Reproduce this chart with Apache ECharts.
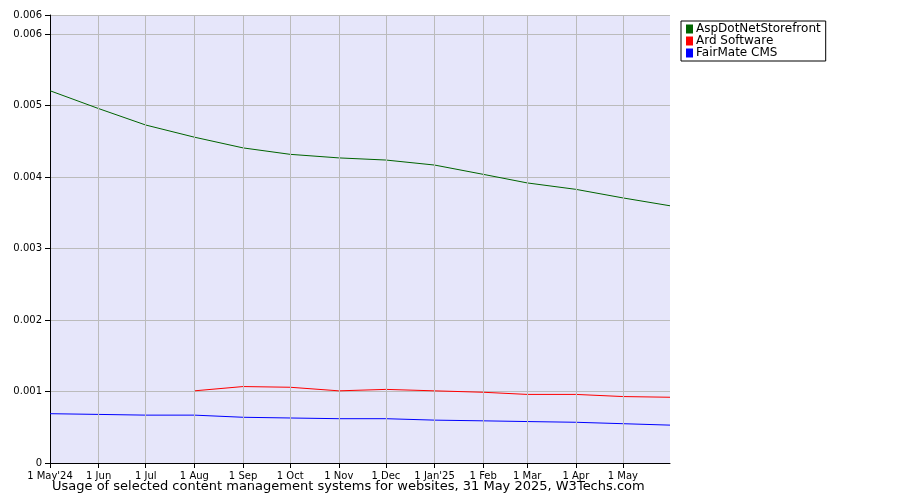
<!DOCTYPE html><html><head><meta charset="utf-8"><script src="https://cdn.jsdelivr.net/npm/echarts@6/dist/echarts.min.js"></script></head><body style="margin:0"><div id="c" style="width:900px;height:500px"></div><script>
const tickDays=[0,31,61,92,123,153,184,214,245,276,304,335,365];
const tickLabels=["1 May'24","1 Jun","1 Jul","1 Aug","1 Sep","1 Oct","1 Nov","1 Dec","1 Jan'25","1 Feb","1 Mar","1 Apr","1 May"];
const pointDays=[0,31,61,92,123,153,184,214,245,276,304,335,365,395];
const asp=[0.00521,0.00496,0.00473,0.00456,0.00441,0.00432,0.00427,0.00424,0.00417,0.00404,0.00392,0.00383,0.00371,0.00360];
const ard=[null,null,null,0.00101,0.00107,0.00106,0.00101,0.00103,0.00101,0.00099,0.00096,0.00096,0.00093,0.00092];
const fair=[0.00069,0.00068,0.00067,0.00067,0.00064,0.00063,0.00062,0.00062,0.00060,0.00059,0.00058,0.00057,0.00055,0.00053];
const lab={};tickDays.forEach((d,i)=>lab[d]=tickLabels[i]);
const mk=a=>pointDays.map((d,i)=>[d,a[i]]).filter(p=>p[1]!==null);
const ch=echarts.init(document.getElementById('c'));
const font='DejaVu Sans';
ch.setOption({animation:false,textStyle:{fontFamily:font},
grid:{left:50,right:230,top:15,bottom:37,show:true,backgroundColor:'#e6e6fa',borderWidth:0},
xAxis:{type:'value',min:0,max:395,axisLine:{lineStyle:{color:'#000'}},
axisTick:{customValues:tickDays,lineStyle:{color:'#000'}},
axisLabel:{customValues:tickDays,formatter:v=>lab[v]||'',fontSize:10,color:'#000',fontFamily:font},splitLine:{show:false}},
yAxis:{type:'value',min:0,max:0.00627,interval:0.001,axisLine:{show:true,lineStyle:{color:'#000'}},axisTick:{show:true,lineStyle:{color:'#000'}},
axisLabel:{formatter:v=>v===0?'0':v.toFixed(3),fontSize:10,color:'#000',fontFamily:font},splitLine:{lineStyle:{color:'#bbb'}}},
legend:{orient:'vertical',left:681,top:21,width:166,padding:[2,5,2,5],itemGap:0,itemWidth:7,itemHeight:9,borderColor:'#000',borderWidth:1,borderRadius:0,
textStyle:{fontSize:12,color:'#000',fontFamily:font,padding:[0,0,0,-2],lineHeight:12},icon:'rect',
data:['AspDotNetStorefront','Ard Software','FairMate CMS']},
graphic:[{type:'text',left:52,top:480,style:{text:'Usage of selected content management systems for websites, 31 May 2025, W3Techs.com',fontSize:13,fontFamily:font,fill:'#000'}}],
series:[
{name:'AspDotNetStorefront',type:'line',data:mk(asp),symbol:'none',color:'#006400',lineStyle:{width:1,color:'#006400'},
 markLine:{silent:true,symbol:'none',label:{show:false},lineStyle:{color:'#bbb',type:'solid',width:1},data:tickDays.slice(1).map(d=>({xAxis:d}))},z:3},
{name:'Ard Software',type:'line',data:mk(ard),symbol:'none',color:'#ff0000',lineStyle:{width:1,color:'#ff0000'}},
{name:'FairMate CMS',type:'line',data:mk(fair),symbol:'none',color:'#0000ff',lineStyle:{width:1,color:'#0000ff'}}
]});
</script></body></html>
